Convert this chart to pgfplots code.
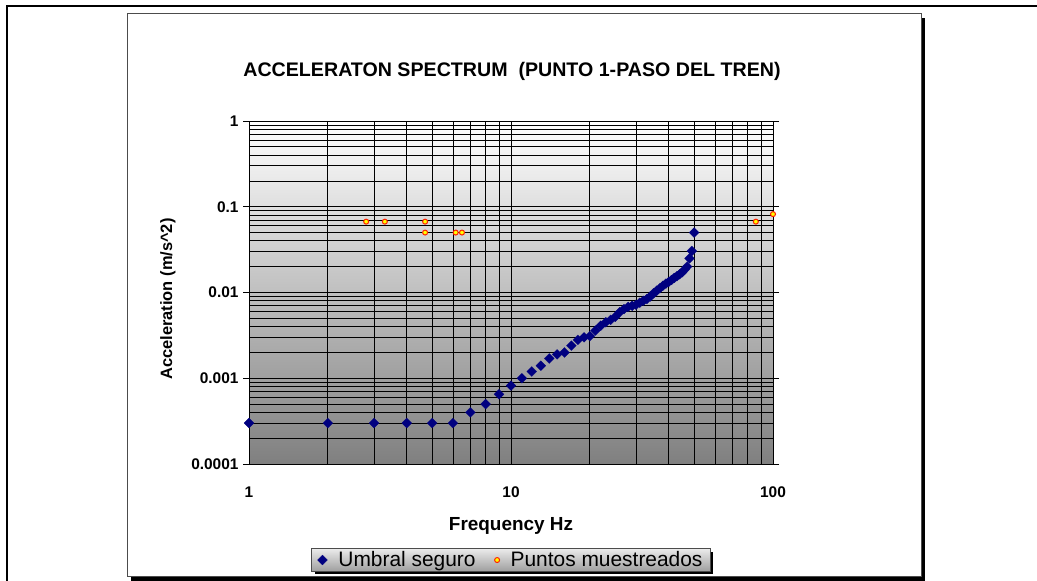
\documentclass[border=0pt]{standalone}
\usepackage{fontspec}
\setmainfont{Liberation Sans}
\usepackage{pgfplots}
\pgfplotsset{compat=1.18}
\usetikzlibrary{shadows}
\definecolor{navyb}{HTML}{000080}
\definecolor{ptred}{HTML}{FF2000}
\definecolor{ptyel}{HTML}{FFFF00}

\begin{document}
\begin{tikzpicture}[x=1bp,y=1bp]
\useasboundingbox (0,0) rectangle (1037,581);
% outer frame
\draw[line width=2.2bp] (7,-3) -- (7,575) -- (1040,575);
% chart area with shadow
\fill[black] (131,0) rectangle (925,563);
\filldraw[fill=white, draw=black!70, line width=1bp] (127,4) rectangle (921,567);
\node[font=\bfseries\fontsize{19.7}{21}\selectfont] at (512,510) {ACCELERATON SPECTRUM\ \ (PUNTO 1-PASO DEL TREN)};
\begin{axis}[
  at={(249bp,117bp)}, anchor=south west,
  scale only axis, width=524bp, height=343bp,
  xmode=log, ymode=log,
  xmin=1, xmax=100, ymin=1e-4, ymax=1,
  axis background/.style={top color=white, bottom color=black!50},
  grid=both,
  major grid style={black, line width=0.85bp},
  minor grid style={black, line width=0.75bp},
  xtick={1,10,100}, xticklabels={1,10,100},
  minor xtick={2,3,4,5,6,7,8,9,20,30,40,50,60,70,80,90},
  ytick={1e-4,1e-3,1e-2,1e-1,1},
  yticklabels={0.0001,0.001,0.01,0.1,1},
  minor ytick={2e-4,3e-4,4e-4,5e-4,6e-4,7e-4,8e-4,9e-4,2e-3,3e-3,4e-3,5e-3,6e-3,7e-3,8e-3,9e-3,2e-2,3e-2,4e-2,5e-2,6e-2,7e-2,8e-2,9e-2,0.2,0.3,0.4,0.5,0.6,0.7,0.8,0.9},
  tick align=outside,
  major tick length=6bp, minor tick length=0pt,
  xtick style={draw=none},
  ytick style={black, line width=0.8bp},
  axis line style={black, line width=0.8bp},
  tick label style={font=\bfseries\fontsize{15.5}{15.5}\selectfont},
  xticklabel style={anchor=center, yshift=-22bp},
  yticklabel style={xshift=-1bp},
  xlabel={Frequency Hz},
  ylabel={Acceleration (m/s\textasciicircum 2)},
  xlabel style={font=\bfseries\fontsize{19}{19}\selectfont, at={(axis description cs:0.5,-0.181)}, anchor=center},
  ylabel style={font=\bfseries\fontsize{16.5}{16.5}\selectfont, at={(axis description cs:-0.1546,0.481)}, anchor=center},
  clip=false,
  legend columns=2,
  legend style={at={(axis description cs:0.5,-0.28)}, anchor=center,
    draw=black!70, line width=0.8bp, top color=black!8, bottom color=black!38,
    font=\fontsize{21}{22}\selectfont, inner xsep=6bp, inner ysep=1bp,
    drop shadow={shadow xshift=3bp, shadow yshift=-3bp, fill=black, opacity=1},
    /tikz/every odd column/.append style={column sep=9bp},
    /tikz/every even column/.append style={column sep=17bp}},
]
\addplot[only marks, mark=square*, mark size=3.5bp,
  mark options={rotate=45, fill=navyb, draw=navyb, line width=0.2bp}]
coordinates {
(1,0.0003) (2,0.0003) (3,0.0003) (4,0.0003) (5,0.0003) (6,0.0003)
(7,0.0004) (8,0.0005) (9,0.00065) (10,0.00082) (11,0.001) (12,0.0012)
(13,0.0014) (14,0.0017) (15,0.0019) (16,0.002) (17,0.0024) (18,0.0028)
(19,0.003) (20,0.0031) (21,0.0036) (22,0.0041) (23,0.0045) (24,0.0048)
(25,0.0052) (26,0.0059) (27,0.0064) (28,0.0068) (29,0.007) (30,0.0072)
(31,0.0076) (32,0.008) (33,0.0084) (34,0.009) (35,0.0098) (36,0.0105)
(37,0.0112) (38,0.012) (39,0.0127) (40,0.0133) (41,0.014) (42,0.0148)
(43,0.0155) (44,0.0163) (45,0.0172) (46,0.0185) (47,0.02) (48,0.025)
(49,0.0305) (50,0.05)
};
\addlegendentry{Umbral seguro}
\addplot[only marks, mark=*, mark size=2.5bp,
  mark options={fill=ptyel, draw=ptred, line width=1bp}]
coordinates {
(2.8,0.067) (3.3,0.067) (4.7,0.067) (4.7,0.05) (6.15,0.05) (6.5,0.05)
(86,0.067) (100,0.082)
};
\addlegendentry{Puntos muestreados}
\end{axis}
\end{tikzpicture}
\end{document}
